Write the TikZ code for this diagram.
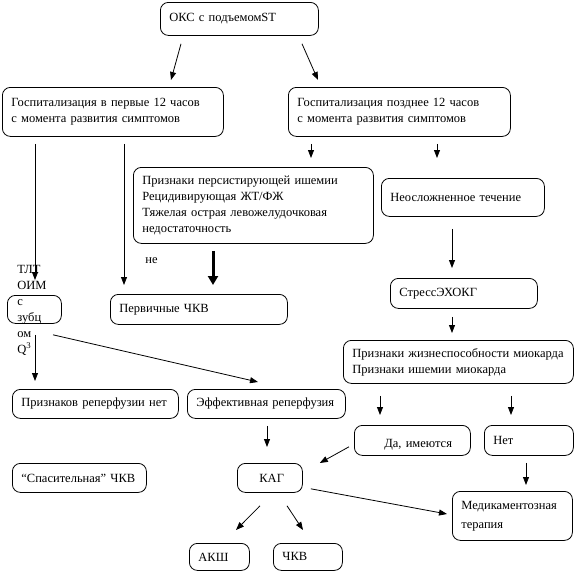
\documentclass[tikz,border=0pt]{standalone}
\usepackage{fontspec}
\setmainfont{Liberation Serif}
\usetikzlibrary{arrows.meta}

\begin{document}
\begin{tikzpicture}[x=1pt, y=-1pt, line width=0.8pt, every node/.style={font=\fontsize{12.5}{16}\selectfont}]
    \tikzset{
        rbox/.style 2 args={draw, rounded corners=8pt, anchor=north west, align=left, inner xsep=9pt, inner ysep=2pt, minimum width=#1, minimum height=#2, text width=#1-18},
        arr/.style={-{Triangle[length=8pt, width=6pt]}},
        bigarr/.style={line width=3pt, -{Triangle[length=9pt, width=10pt]}}
    }
    \useasboundingbox (0,0) rectangle (574,571);

    % Top
    \node[rbox={158}{33}] (oks) at (160,2) {ОКС с подъемомST};
    \node[rbox={221}{49}] (gosp-early) at (2,87) {Госпитализация в первые 12 часов\\с момента развития симптомов};
    \node[rbox={222}{49}] (gosp-late) at (288,87) {Госпитализация позднее 12 часов\\с момента развития симптомов};

    % Second row
    \node[rbox={240}{76}] (ischemia) at (133,167) {Признаки~персистирующей~ишемии\\Рецидивирующая ЖТ/ФЖ\\Тяжелая~острая~левожелудочковая\\недостаточность};
    \node[rbox={163}{38}] (uncompl) at (381,178) {Неосложненное~течение};
    \node[anchor=west, inner sep=0pt] (ne) at (145,261) {не};

    % Middle
    \node[rbox={54}{28}] (tlt) at (7,295) {};
    \node[align=left, anchor=west, inner sep=0pt] (tlt-text) at (17,310) {ТЛТ\\ОИМ\\с\\зубц\\ом\\Q\textsuperscript{3}};
    \node[rbox={177}{30}] (pci-primary) at (110,294) {Первичные ЧКВ};
    \node[rbox={147}{30}] (stress-echo) at (390,278) {СтрессЭХОКГ};
    \node[rbox={230}{43}] (viability) at (343,340) {Признаки~жизнеспособности~миокарда\\Признаки~ишемии~миокарда};

    % Lower rows
    \node[rbox={166}{29}] (no-reperf) at (12,389) {Признаков~реперфузии~нет};
    \node[rbox={158}{29}] (eff-reperf) at (187,389) {Эффективная~реперфузия};
    \node[rbox={116}{30}] (yes) at (354,425) {\hspace*{21pt}\raisebox{-4pt}[9pt][3pt]{Да,~имеются}};
    \node[rbox={89}{30}] (no) at (484,425) {Нет};
    \node[rbox={134}{29}] (rescue-pci) at (12,463) {“Спасительная”~ЧКВ};
    \node[rbox={65}{29}] (kag) at (237,463) {\hspace*{13pt}КАГ};
    \node[rbox={120}{49}, font=\fontsize{12.5}{19}\selectfont] (medical) at (452,491) {Медикаментозная\\терапия};
    \node[rbox={60}{27}] (cabg) at (189,543) {АКШ};
    \node[rbox={69}{27}] (pci) at (273,543) {ЧКВ};

    % Connections
    \draw[arr] ([shift={(21,8)}]oks.south west) -- ([shift={(169,-7)}]gosp-early.north west);
    \draw[arr] ([shift={(142,8)}]oks.south west) -- ([shift={(30,-7)}]gosp-late.north west);
    \draw[arr] ([shift={(33,7)}]gosp-early.south west) -- ([shift={(28,-15)}]tlt.north west);
    \draw[arr] ([shift={(122,7)}]gosp-early.south west) -- ([shift={(14,-9)}]pci-primary.north west);
    \draw[arr] ([shift={(23,7)}]gosp-late.south west) -- ([shift={(178,-9)}]ischemia.north west);
    \draw[arr] ([shift={(149,7)}]gosp-late.south west) -- ([shift={(56,-20)}]uncompl.north west);
    \draw[bigarr] ([shift={(80,7)}]ischemia.south west) -- ([shift={(103,-9)}]pci-primary.north west);
    \draw[arr] ([shift={(71,12)}]uncompl.south west) -- ([shift={(62,-10)}]stress-echo.north west);
    \draw[arr] ([shift={(62,8)}]stress-echo.south west) -- ([shift={(109,-7)}]viability.north west);
    \draw[arr] ([shift={(28,11)}]tlt.south west) -- ([shift={(23,-8)}]no-reperf.north west);
    \draw[arr] ([shift={(46,11)}]tlt.south west) -- ([shift={(71,-7)}]eff-reperf.north west);
    \draw[arr] ([shift={(80,7)}]eff-reperf.south west) -- ([shift={(30,-16)}]kag.north west);
    \draw[arr] ([shift={(37,12)}]viability.south west) -- ([shift={(26,-10)}]yes.north west);
    \draw[arr] ([shift={(168,12)}]viability.south west) -- ([shift={(27,-10)}]no.north west);
    \draw[arr] ([shift={(-5,-9)}]yes.south west) -- ([shift={(17,0)}]kag.north east);
    \draw[arr] ([shift={(42,7)}]no.south west) -- ([shift={(74,-6)}]medical.north west);
    \draw[arr] ([shift={(8,-4)}]kag.south east) -- ([shift={(-5,23)}]medical.north west);
    \draw[arr] ([shift={(23,13)}]kag.south west) -- ([shift={(47,-13)}]cabg.north west);
    \draw[arr] ([shift={(50,13)}]kag.south west) -- ([shift={(30,-13)}]pci.north west);
\end{tikzpicture}
\end{document}
